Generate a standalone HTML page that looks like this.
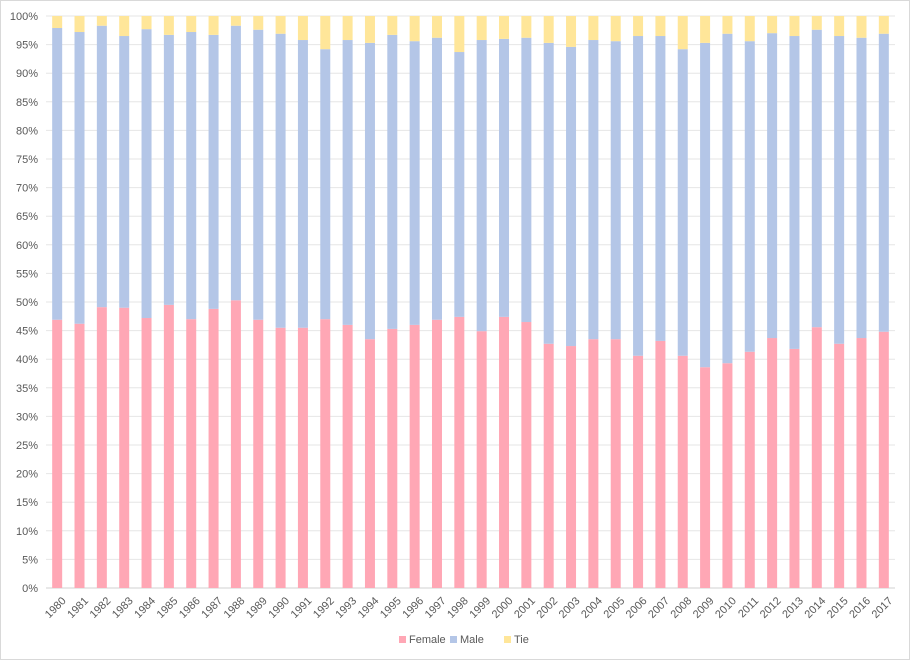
<!DOCTYPE html>
<html><head><meta charset="utf-8"><style>
body{margin:0;background:#fff;font-family:"Liberation Sans",sans-serif}
#wrap{width:908px;height:658px;border:1px solid #d9d9d9;position:relative}
</style></head><body>
<div id="wrap">
<svg id="svg" width="908" height="658"></svg>
</div>
<script>
const years=[];for(let y=1980;y<=2017;y++)years.push(String(y));
const femaleTop=[46.9,46.2,49.1,49.0,47.2,49.5,47.0,48.8,50.3,46.9,45.5,45.5,47.0,46.0,43.5,45.3,46.0,46.9,47.4,44.9,47.4,46.5,42.7,42.3,43.5,43.5,40.6,43.2,40.6,38.6,39.3,41.3,43.7,41.8,45.6,42.7,43.7,44.8];
const maleTop=[97.9,97.2,98.3,96.5,97.7,96.7,97.2,96.7,98.3,97.6,96.9,95.8,94.2,95.8,95.3,96.7,95.6,96.2,93.7,95.8,96.0,96.2,95.3,94.6,95.8,95.6,96.5,96.5,94.2,95.3,96.9,95.6,97.0,96.5,97.6,96.5,96.2,96.9];
const female=femaleTop.slice();
const male=maleTop.map((v,i)=>+(v-femaleTop[i]).toFixed(1));
const tie=maleTop.map(v=>+(100-v).toFixed(1));
const yTicks=[0,5,10,15,20,25,30,35,40,45,50,55,60,65,70,75,80,85,90,95,100];
const series=[["Female",female,"#ffa7b5"],["Male",male,"#b4c6e7"],["Tie",tie,"#ffe699"]];

const NS="http://www.w3.org/2000/svg";
const svg=document.getElementById('svg');
const L=45,R=894,T=15,B=587;
const yS=v=>B-(v/100)*(B-T);
const step=(R-L)/years.length;
const xC=i=>L+step*(i+0.5);
function el(t,a,p){const e=document.createElementNS(NS,t);for(const k in a)e.setAttribute(k,a[k]);(p||svg).appendChild(e);return e;}
yTicks.forEach(t=>{
  const g=el('line',{x1:L,x2:R,y1:yS(t),y2:yS(t),stroke:t===0?'#d0d0d0':'#e6e6e6','stroke-width':1});
  
  
  const tx=el('text',{x:37,y:yS(t)+4,'text-anchor':'end','font-size':11,fill:'#595959'});
  tx.textContent=t+'%';
  
  
});
years.forEach((yr,i)=>{
  let base=0;
  series.forEach(([n,vals,c])=>{
    const v=vals[i];
    const r=el('rect',{x:xC(i)-5,y:yS(base+v),width:10,height:yS(base)-yS(base+v),fill:c});
    
    
    base+=v;
  });
  const x=xC(i)+4,y=B+8;
  const tx=el('text',{x:x,y:y,'text-anchor':'end','font-size':11,fill:'#595959',transform:`rotate(-45 ${x} ${y})`,dy:'0.7em'});
  tx.textContent=yr;
  
  
});
const lx=[398,449,503];
series.forEach(([n,v,c],k)=>{
  const g=el('g',{});
  
  
  el('rect',{x:lx[k],y:635,width:7,height:7,fill:c},g);
  const t=el('text',{x:lx[k]+10,y:642,'font-size':11,fill:'#595959'},g);
  t.textContent=n;
});
</script>
</body></html>
